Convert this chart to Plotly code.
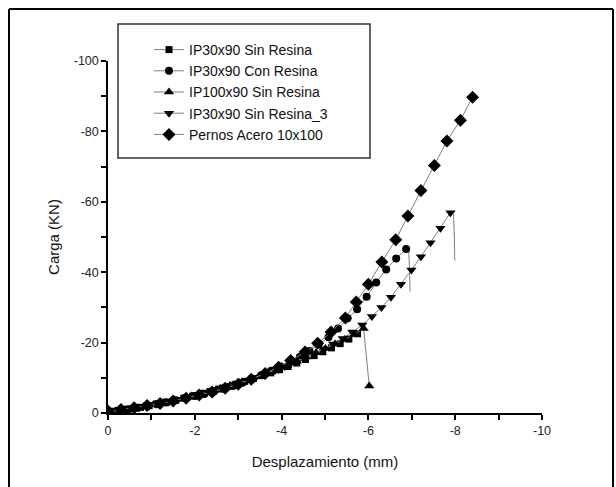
import plotly.graph_objects as go

# ---------------- data ----------------
sin_resina_x = [0.0, -0.15, -0.35, -0.55, -0.75, -0.95, -1.15, -1.35, -1.55, -1.75, -1.95, -2.15,
                -2.35, -2.55, -2.75, -2.95, -3.15, -3.35, -3.55, -3.75, -3.95, -4.15, -4.35, -4.55,
                -4.75, -4.95, -5.15, -5.35, -5.55, -5.75]
sin_resina_y = [-0.3, -0.5, -0.8, -1.2, -1.6, -2.1, -2.6, -3.1, -3.6, -4.2, -4.8, -5.4,
                -6.1, -6.8, -7.5, -8.2, -9.0, -9.8, -10.6, -11.4, -12.3, -13.2, -14.2, -15.2,
                -16.3, -17.4, -18.5, -19.7, -21.0, -22.5]

con_resina_x = [0.0, -0.24, -0.46, -0.68, -0.90, -1.12, -1.34, -1.56, -1.78, -2.00, -2.22, -2.44,
                -2.66, -2.88, -3.10, -3.32, -3.54, -3.76, -3.98, -4.20, -4.42, -4.64, -4.86, -5.08,
                -5.30, -5.52, -5.74, -5.96, -6.18, -6.41, -6.64, -6.87]
con_resina_y = [-0.4, -0.7, -1.1, -1.5, -2.0, -2.5, -3.0, -3.6, -4.2, -4.8, -5.4, -6.1,
                -6.9, -7.7, -8.6, -9.7, -10.8, -12.0, -13.2, -14.5, -15.9, -17.6, -19.6, -21.5,
                -24.0, -26.9, -29.5, -33.0, -37.1, -40.8, -43.9, -46.6]
con_resina_tail_x = [-6.93, -6.95, -6.96]
con_resina_tail_y = [-45.8, -40.0, -34.5]

ip100_x = [0.0, -0.17, -0.39, -0.61, -0.83, -1.05, -1.27, -1.49, -1.71, -1.93, -2.15, -2.37,
           -2.59, -2.81, -3.03, -3.25, -3.47, -3.69, -3.91, -4.13, -4.35, -4.57, -4.79, -5.01,
           -5.23, -5.45, -5.67, -5.89, -6.02]
ip100_y = [-0.3, -0.6, -1.0, -1.4, -1.9, -2.4, -2.9, -3.5, -4.1, -4.8, -5.5, -6.2,
           -7.0, -7.8, -8.6, -9.5, -10.4, -11.4, -12.4, -13.5, -14.7, -15.9, -17.1, -18.3,
           -19.6, -20.9, -22.3, -24.0, -7.7]

sin_resina3_x = [0.0, -0.28, -0.50, -0.72, -0.95, -1.17, -1.39, -1.62, -1.84, -2.06, -2.29, -2.51,
                 -2.73, -2.96, -3.18, -3.40, -3.63, -3.85, -4.07, -4.30, -4.52, -4.74, -4.97, -5.19,
                 -5.41, -5.63, -5.86, -6.08, -6.30, -6.52, -6.75, -6.99, -7.21, -7.43, -7.66, -7.89]
sin_resina3_y = [-0.3, -0.6, -1.0, -1.5, -2.0, -2.6, -3.2, -3.8, -4.5, -5.2, -6.0, -6.7,
                 -7.5, -8.3, -9.2, -10.1, -11.1, -12.1, -13.2, -14.4, -15.6, -16.9, -18.2, -19.6,
                 -21.2, -23.0, -25.0, -27.4, -30.0, -32.9, -36.6, -40.6, -44.4, -48.4, -52.5, -56.9]
sin_resina3_tail_x = [-7.96, -7.98, -7.99]
sin_resina3_tail_y = [-56.5, -50.0, -43.3]

pernos_x = [0.0, -0.3, -0.6, -0.9, -1.2, -1.5, -1.8, -2.1, -2.4, -2.7, -3.0, -3.3, -3.62, -3.93,
            -4.21, -4.54, -4.83, -5.14, -5.47, -5.72, -6.00, -6.31, -6.63, -6.91, -7.21, -7.52,
            -7.81, -8.12, -8.40]
pernos_y = [-0.6, -1.0, -1.5, -2.1, -2.7, -3.4, -4.2, -5.1, -6.0, -7.0, -8.2, -9.6, -11.2, -13.0,
            -14.9, -17.3, -19.8, -23.0, -27.0, -31.5, -36.6, -42.9, -49.2, -56.0, -63.2, -70.3,
            -77.3, -83.2, -89.7]

series_names = ["IP30x90 Sin Resina", "IP30x90 Con Resina", "IP100x90 Sin Resina",
                "IP30x90 Sin Resina_3", "Pernos Acero 10x100"]

x_tickvals = [0, -2, -4, -6, -8, -10]
y_tickvals = [0, -20, -40, -60, -80, -100]

# ---------------- figure ----------------
LINE = dict(color="#808080", width=1)
FONT = "Liberation Sans, Arial, sans-serif"

fig = go.Figure()

def add(name, xs, ys, symbol, size, tail_x=None, tail_y=None):
    if tail_x:
        fig.add_trace(go.Scatter(x=[xs[-1]] + tail_x, y=[ys[-1]] + tail_y, mode="lines",
                                 line=LINE, showlegend=False, hoverinfo="skip"))
    fig.add_trace(go.Scatter(x=xs, y=ys, mode="lines+markers", name=name,
                             line=LINE,
                             marker=dict(symbol=symbol, size=size, color="black",
                                         line=dict(width=0))))

add(series_names[0], sin_resina_x, sin_resina_y, "square", 7)
add(series_names[1], con_resina_x, con_resina_y, "circle", 8, con_resina_tail_x, con_resina_tail_y)
add(series_names[2], ip100_x, ip100_y, "triangle-up", 9)
add(series_names[3], sin_resina3_x, sin_resina3_y, "triangle-down", 9,
    sin_resina3_tail_x, sin_resina3_tail_y)
add(series_names[4], pernos_x, pernos_y, "diamond", 10)

axis_common = dict(showgrid=False, zeroline=False, showline=True, linecolor="black", linewidth=1.5,
                   ticks="outside", ticklen=5, tickwidth=1.5, tickcolor="black",
                   tickfont=dict(family=FONT, size=12.5, color="#222"),
                   minor=dict(ticks="outside", ticklen=5, tickwidth=1.5, tickcolor="black"))

fig.update_xaxes(range=[0, -10], tickvals=x_tickvals, ticktext=[str(v) for v in x_tickvals],
                 minor_tickvals=[-1, -3, -5, -7, -9],
                 title=dict(text="Desplazamiento (mm)", font=dict(family=FONT, size=15, color="#111"),
                            standoff=20),
                 **axis_common)
fig.update_yaxes(range=[0, -100], tickvals=y_tickvals, ticktext=[str(v) for v in y_tickvals],
                 minor_tickvals=[-10, -30, -50, -70, -90],
                 title=dict(text="Carga (KN)", font=dict(family=FONT, size=15, color="#111"),
                            standoff=10),
                 **axis_common)

W, H = 616, 487
# plot area in window coords: x 108..542, y 61..413
L, R, T, B = 108, W - 542, 61, H - 413
pw, ph = W - L - R, H - T - B

def px_x(p):
    return (p - L) / pw

def px_y(p):
    return (H - B - p) / ph

fig.update_layout(
    width=W, height=H,
    margin=dict(l=L, r=R, t=T, b=B, autoexpand=False),
    paper_bgcolor="white", plot_bgcolor="white",
    font=dict(family=FONT, color="#111"),
    showlegend=True,
    legend=dict(x=px_x(149), y=px_y(34), xanchor="left", yanchor="top",
                bgcolor="rgba(0,0,0,0)", borderwidth=0,
                font=dict(family=FONT, size=14, color="#111"),
                traceorder="normal"),
    shapes=[
        dict(type="rect", xref="paper", yref="paper",
             x0=px_x(118), x1=px_x(370), y0=px_y(158), y1=px_y(24),
             line=dict(color="#333", width=1.5), fillcolor="rgba(0,0,0,0)", layer="below"),
        dict(type="line", xref="paper", yref="paper",
             x0=px_x(9), x1=px_x(613), y0=px_y(9), y1=px_y(9),
             line=dict(color="black", width=2)),
        dict(type="line", xref="paper", yref="paper",
             x0=px_x(9), x1=px_x(9), y0=px_y(9), y1=px_y(500),
             line=dict(color="black", width=2)),
        dict(type="line", xref="paper", yref="paper",
             x0=px_x(613), x1=px_x(613), y0=px_y(9), y1=px_y(500),
             line=dict(color="black", width=2)),
    ],
)

# remove the default page margin so the figure fills the 616x487 window exactly
page_css = ("document.documentElement.style.margin='0';document.body.style.margin='0';"
            "document.documentElement.style.overflow='hidden';document.body.style.overflow='hidden';")

fig.write_html("out.html", post_script=page_css, config={"displayModeBar": False})
